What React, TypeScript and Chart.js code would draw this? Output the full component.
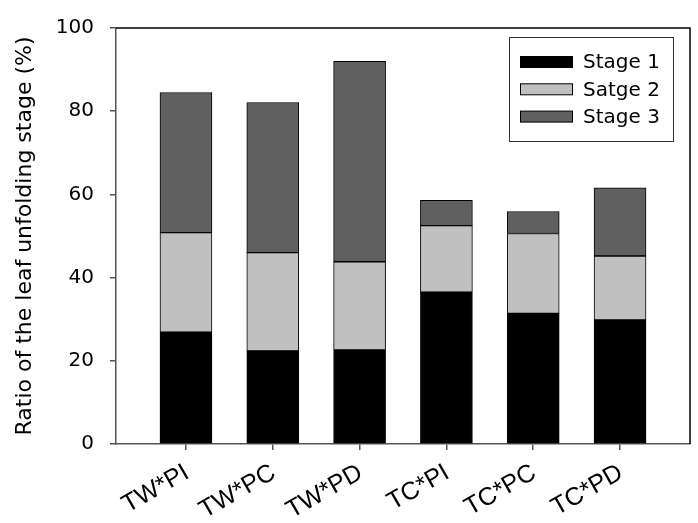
import React, { useEffect, useRef } from 'react';
import { Chart, registerables } from 'chart.js';
Chart.register(...registerables);

const categories = ['TW*PI', 'TW*PC', 'TW*PD', 'TC*PI', 'TC*PC', 'TC*PD'];
const stage1 = [26.9, 22.4, 22.6, 36.5, 31.4, 29.8];
const stage2 = [23.9, 23.6, 21.2, 16.0, 19.2, 15.4];
const stage3 = [33.7, 36.1, 48.2, 6.1, 5.3, 16.4];
const seriesLabels = ['Stage 1', 'Satge 2', 'Stage 3'];
const seriesColors = ['#000000', '#c0c0c0', '#606060'];
const yTickValues = [0, 20, 40, 60, 80, 100];
const yTitle = 'Ratio of the leaf unfolding stage (%)';

const FONT = 'DejaVu Sans';
const XFONT = 'Liberation Sans';

const framePlugin = {
  id: 'frameAndLegend',
  afterDraw(chart: any) {
    const { ctx, chartArea } = chart;
    ctx.save();
    ctx.strokeStyle = '#000';
    ctx.lineWidth = 1.5;
    ctx.beginPath();
    ctx.moveTo(chartArea.left, chartArea.top);
    ctx.lineTo(chartArea.right, chartArea.top);
    ctx.lineTo(chartArea.right, chartArea.bottom);
    ctx.stroke();

    const bx = 509, by = 37, bw = 164, bh = 104;
    ctx.fillStyle = '#fff';
    ctx.fillRect(bx, by, bw, bh);
    ctx.strokeStyle = '#333';
    ctx.lineWidth = 1;
    ctx.strokeRect(bx + 0.5, by + 0.5, bw, bh);
    ctx.font = `20px "${FONT}"`;
    ctx.textBaseline = 'middle';
    ctx.textAlign = 'left';
    chart.data.datasets.forEach((ds: any, i: number) => {
      const cy = 62 + i * 27.3;
      ctx.fillStyle = ds.backgroundColor;
      ctx.fillRect(520, cy - 5.5, 52, 11);
      ctx.strokeStyle = '#000';
      ctx.strokeRect(520.5, cy - 5.5, 52, 11);
      ctx.fillStyle = '#000';
      ctx.fillText(ds.label, 583, cy + 1);
    });
    ctx.restore();
  },
};

export default function App() {
  const ref = useRef<HTMLCanvasElement | null>(null);
  useEffect(() => {
    document.body.style.margin = '0';
    const series = [stage1, stage2, stage3];
    const chart = new Chart(ref.current as HTMLCanvasElement, {
      type: 'bar',
      data: {
        datasets: series.map((vals, si) => ({
          label: seriesLabels[si],
          data: vals.map((v, i) => ({ x: i, y: v })),
          backgroundColor: seriesColors[si],
          borderColor: '#000',
          borderWidth: 1,
          barThickness: 52,
          borderSkipped: false,
        })),
      },
      options: {
        animation: false,
        responsive: true,
        maintainAspectRatio: false,
        layout: { padding: { left: 0, right: 8, top: 27, bottom: 0 } },
        plugins: { legend: { display: false }, tooltip: { enabled: false } },
        scales: {
          x: {
            type: 'linear',
            stacked: true,
            offset: false,
            min: -0.806,
            max: 5.806,
            afterFit: (s: any) => { s.height = 79; },
            afterBuildTicks: (s: any) => {
              s.ticks = categories.map((_, i) => ({ value: i }));
            },
            ticks: {
              autoSkip: false,
              includeBounds: false,
              stepSize: 1,
              minRotation: 30,
              maxRotation: 30,
              padding: 8,
              labelOffset: 1,
              color: '#000',
              font: { family: XFONT, size: 25 },
              callback: (v: any) => categories[v] ?? '',
            },
            grid: { offset: false, drawOnChartArea: false, drawTicks: true, tickLength: 6, color: '#555', lineWidth: 1.5 },
            border: { display: true, color: '#555', width: 1.5 },
          },
          y: {
            stacked: true,
            min: 0,
            max: 100,
            afterFit: (s: any) => { s.width = 116; },
            afterBuildTicks: (s: any) => {
              s.ticks = yTickValues.map((v) => ({ value: v }));
            },
            ticks: {
              padding: 16,
              color: '#000',
              font: { family: FONT, size: 20 },
            },
            grid: { drawOnChartArea: false, drawTicks: true, tickLength: 6, color: '#555', lineWidth: 1.5 },
            border: { display: true, color: '#555', width: 1.5 },
            title: {
              display: true,
              text: yTitle,
              color: '#000',
              font: { family: FONT, size: 22 },
              padding: { top: 12, bottom: 0 },
            },
          },
        },
      },
      plugins: [framePlugin],
    } as any);
    return () => chart.destroy();
  }, []);
  return (
    <div style={{ position: 'fixed', left: 0, top: 0, width: 698, height: 523 }}>
      <canvas ref={ref} />
    </div>
  );
}
